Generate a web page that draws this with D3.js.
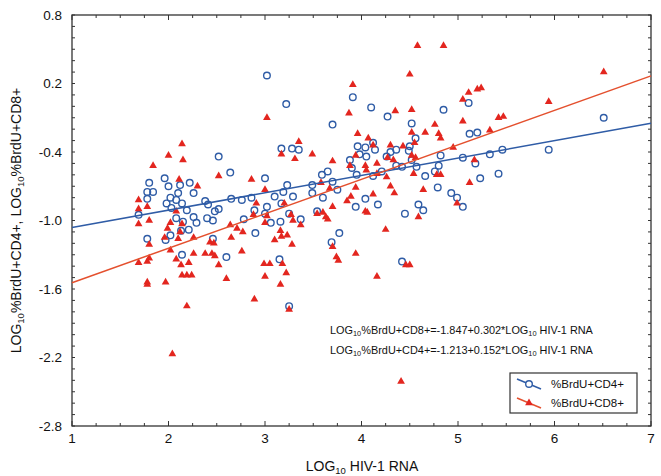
<!DOCTYPE html>
<html>
<head>
<meta charset="utf-8">
<script src="https://cdn.jsdelivr.net/npm/d3@7"></script>
<style>
  html, body { margin: 0; padding: 0; background: #fff; }
  svg { display: block; }
  text { font-family: "Liberation Sans", Arial, Helvetica, sans-serif; fill: #111; }
</style>
</head>
<body>
<svg id="chart" width="661" height="476"></svg>
<script>
// Log10 HIV-1 RNA vs log10 %BrdU+ cells, one [x, y] pair per sample
const cd4Points = [
  [2.52,-0.44],[1.80,-0.67],[1.96,-0.63],[2.64,-0.58],[1.78,-0.75],[1.84,-0.75],[2.00,-0.70],
  [2.12,-0.69],[2.22,-0.67],[2.26,-0.76],[2.10,-0.76],[1.78,-0.81],[2.02,-0.80],[2.08,-0.82],
  [1.98,-0.85],[2.14,-0.85],[2.03,-0.89],[2.19,-0.91],[2.38,-0.83],[2.41,-0.86],[2.48,-0.92],
  [2.52,-0.90],[2.65,-0.81],[2.76,-0.82],[1.69,-0.95],[2.08,-0.98],[2.15,-1.01],[2.26,-0.97],
  [2.29,-1.02],[2.40,-0.98],[2.46,-1.00],[2.78,-0.99],[2.21,-1.08],[2.13,-1.09],[1.78,-1.16],
  [1.97,-1.17],[2.02,-1.13],[2.46,-1.16],[2.14,-1.30],[2.60,-1.32],
  [3.02,0.27],[3.22,0.02],[3.91,0.08],[4.10,-0.01],[4.27,-0.09],[3.70,-0.16],[3.17,-0.37],
  [3.28,-0.37],[3.35,-0.38],[3.96,-0.35],[4.04,-0.36],[4.12,-0.32],[4.14,-0.38],[3.88,-0.47],
  [3.98,-0.42],[4.05,-0.44],[4.26,-0.44],[4.36,-0.38],[4.30,-0.40],[3.90,-0.54],[3.95,-0.60],
  [4.12,-0.61],[4.21,-0.57],[4.36,-0.52],[3.65,-0.57],[3.59,-0.60],[3.49,-0.69],[3.70,-0.66],
  [3.75,-0.73],[3.00,-0.63],[3.23,-0.69],[3.19,-0.75],[3.10,-0.79],[3.29,-0.79],[3.49,-0.76],
  [3.60,-0.80],[2.86,-0.80],[4.04,-0.81],[3.02,-0.88],[3.17,-0.85],[3.94,-0.88],[4.17,-0.86],
  [2.89,-0.91],[3.00,-0.94],[3.25,-0.94],[3.54,-0.92],[3.06,-1.02],[3.16,-1.01],[3.37,-0.99],
  [2.90,-1.11],[3.77,-1.11],[3.69,-1.19],[3.15,-1.34],[3.25,-1.75],
  [4.85,-0.03],[5.11,0.03],[4.52,-0.15],[6.51,-0.10],[5.12,-0.24],[5.20,-0.23],[4.56,-0.28],
  [4.50,-0.35],[4.49,-0.39],[4.82,-0.43],[4.42,-0.53],[4.57,-0.53],[4.52,-0.47],[5.05,-0.45],
  [5.18,-0.50],[5.33,-0.42],[5.46,-0.38],[5.94,-0.38],[4.80,-0.52],[4.76,-0.57],[4.66,-0.61],
  [5.23,-0.63],[5.42,-0.59],[4.79,-0.71],[4.93,-0.76],[4.99,-0.80],[5.05,-0.88],[4.59,-0.86],
  [4.64,-0.91],[4.45,-0.94],[4.42,-1.36]
];

const cd8Points = [
  [2.00,-0.43],[2.15,-0.47],[1.84,-0.52],[2.11,-0.64],[2.52,-0.61],[2.30,-0.70],[1.69,-0.82],
  [1.69,-0.90],[1.78,-0.88],[2.08,-0.92],[1.69,-1.03],[1.80,-1.00],[2.02,-1.02],[1.99,-1.07],
  [2.14,-1.03],[2.12,-1.10],[2.64,-1.04],[2.71,-1.07],[2.77,-1.10],[1.96,-1.15],[2.10,-1.16],
  [2.26,-1.15],[1.80,-1.21],[2.43,-1.19],[2.47,-1.20],[2.65,-1.15],[2.02,-1.26],[2.26,-1.29],
  [2.38,-1.29],[2.45,-1.29],[2.48,-1.31],[2.76,-1.27],[1.69,-1.37],[1.78,-1.36],[1.80,-1.33],
  [2.08,-1.34],[2.13,-1.39],[2.21,-1.37],[2.52,-1.39],[2.14,-1.48],[2.19,-1.48],[2.24,-1.48],
  [2.60,-1.51],[1.78,-1.54],[1.78,-1.56],[1.97,-1.54],[2.19,-1.75],[2.14,-0.33],[2.04,-2.17],
  [3.91,0.19],[3.02,-0.10],[3.87,-0.06],[4.35,-0.04],[3.96,-0.24],[3.35,-0.31],[3.17,-0.42],
  [3.31,-0.46],[3.49,-0.42],[3.70,-0.48],[4.07,-0.28],[4.12,-0.34],[4.30,-0.34],[4.27,-0.45],
  [4.33,-0.47],[4.16,-0.50],[4.04,-0.52],[4.05,-0.56],[3.88,-0.52],[3.94,-0.43],[4.26,-0.62],
  [4.16,-0.59],[2.86,-0.64],[3.00,-0.73],[3.58,-0.67],[3.67,-0.72],[3.94,-0.71],[4.30,-0.70],
  [4.12,-0.77],[4.34,-0.76],[3.89,-0.79],[3.70,-0.88],[3.85,-0.83],[4.04,-0.92],[4.06,-0.93],
  [2.91,-0.85],[2.88,-0.95],[3.02,-0.96],[3.20,-0.85],[3.27,-0.95],[3.29,-1.00],[3.37,-1.04],
  [3.54,-0.94],[3.63,-0.97],[3.60,-0.93],[3.65,-0.99],[4.25,-1.08],[3.00,-1.02],[3.10,-1.17],
  [3.16,-1.09],[3.17,-1.14],[3.23,-1.13],[3.28,-1.21],[3.70,-1.23],[3.74,-1.32],[3.76,-1.35],
  [3.94,-1.29],[2.99,-1.38],[3.05,-1.38],[3.18,-1.38],[3.22,-1.46],[3.00,-1.49],[3.16,-1.56],
  [4.16,-1.49],[2.89,-1.69],[3.25,-1.78],
  [4.58,0.53],[4.85,0.53],[4.50,0.28],[6.51,0.30],[5.11,0.12],[5.20,0.15],[5.24,0.16],
  [5.05,0.06],[5.94,0.04],[4.52,-0.03],[5.05,-0.13],[4.76,-0.16],[5.42,-0.10],[5.47,-0.09],
  [4.66,-0.23],[4.52,-0.23],[4.80,-0.24],[4.82,-0.28],[5.33,-0.21],[4.55,-0.32],[4.43,-0.35],
  [4.95,-0.36],[4.52,-0.43],[4.56,-0.45],[5.17,-0.47],[4.54,-0.59],[4.78,-0.60],[4.82,-0.60],
  [5.12,-0.67],[4.64,-0.73],[4.99,-0.85],[4.59,-0.97],[4.46,-1.39],[4.50,-1.39],[4.41,-2.41]
];

// Least-squares fits: y = intercept + slope * x
const cd8Fit = { intercept: -1.847, slope: 0.302 };
const cd4Fit = { intercept: -1.213, slope: 0.152 };

const xTicks = [1, 2, 3, 4, 5, 6, 7];
const yTicks = [0.8, 0.2, -0.4, -1.0, -1.6, -2.2, -2.8];
const seriesNames = ["%BrdU+CD4+", "%BrdU+CD8+"];

const blue = "#2f5ca6";
const red = "#e3261f";
const redLine = "#e4502e";

const svg = d3.select("#chart");
const W = 661, H = 476;
const m = { left: 72, right: 10, top: 15, bottom: 50 };

const x = d3.scaleLinear().domain([1, 7]).range([m.left, W - m.right]);
const y = d3.scaleLinear().domain([-2.8, 0.8]).range([H - m.bottom, m.top]);

const x0 = x.range()[0], x1 = x.range()[1];
const y0 = y.range()[1], y1 = y.range()[0];

// Plain hyphen-minus for negative numbers
const num = f => v => d3.format(f)(v).replace("\u2212", "-");

// Inward tick marks on all four sides
const xMinor = d3.range(1, 7.001, 0.25);
const yMinor = d3.range(-2.8, 0.8001, 0.1);
const ticks = svg.append("g").attr("stroke", "#333").attr("stroke-width", 1);
xMinor.forEach(v => {
  const len = Math.abs(v - Math.round(v)) < 1e-6 ? 5 : 3;
  ticks.append("line").attr("x1", x(v)).attr("x2", x(v)).attr("y1", y1).attr("y2", y1 - len);
  ticks.append("line").attr("x1", x(v)).attr("x2", x(v)).attr("y1", y0).attr("y2", y0 + len);
});
yMinor.forEach(v => {
  ticks.append("line").attr("x1", x0).attr("x2", x0 + 3).attr("y1", y(v)).attr("y2", y(v));
  ticks.append("line").attr("x1", x1).attr("x2", x1 - 3).attr("y1", y(v)).attr("y2", y(v));
});

// Frame
svg.append("rect")
  .attr("x", x0).attr("y", y0).attr("width", x1 - x0).attr("height", y1 - y0)
  .attr("fill", "none").attr("stroke", "#333").attr("stroke-width", 1.3);

// Tick labels
svg.append("g").selectAll("text").data(yTicks).join("text")
  .attr("x", x0 - 10).attr("y", d => y(d)).attr("dy", "0.35em")
  .attr("text-anchor", "end").attr("font-size", 13.5).text(num(".1f"));
svg.append("g").selectAll("text").data(xTicks).join("text")
  .attr("x", d => x(d)).attr("y", y1 + 17)
  .attr("text-anchor", "middle").attr("font-size", 13.5).text(d => d);

// Text built from segments; subscript segments are shrunk and lowered
function subText(g, segments, size) {
  segments.forEach(([t, sub]) => {
    g.append("tspan")
      .attr("font-size", sub ? size * 0.68 : size)
      .attr("baseline-shift", sub ? "-25%" : null)
      .text(t);
  });
}

// Axis titles
const xTitle = svg.append("text").attr("x", 362).attr("y", 471)
  .attr("text-anchor", "middle").attr("font-size", 14);
subText(xTitle, [["LOG", false], ["10", true], [" HIV-1 RNA", false]], 14);

const yTitle = svg.append("text")
  .attr("transform", `translate(21,${(y0 + y1) / 2}) rotate(-90)`)
  .attr("text-anchor", "middle").attr("font-size", 14);
subText(yTitle, [["LOG", false], ["10", true], ["%BrdU+CD4+, LOG", false], ["10", true], ["%BrdU+CD8+", false]], 14);

// Points
svg.append("g").selectAll("circle").data(cd4Points).join("circle")
  .attr("cx", d => x(d[0])).attr("cy", d => y(d[1])).attr("r", 3.3)
  .attr("fill", "none").attr("stroke", blue).attr("stroke-width", 1.4);

const tri = d3.symbol().type(d3.symbolTriangle).size(26);
svg.append("g").selectAll("path").data(cd8Points).join("path")
  .attr("transform", d => `translate(${x(d[0])},${y(d[1])})`)
  .attr("d", tri).attr("fill", red);

// Regression lines across the whole x domain
const fitLine = f => d3.line()(x.domain().map(v => [x(v), y(f.intercept + f.slope * v)]));
svg.append("path").attr("d", fitLine(cd4Fit)).attr("stroke", blue).attr("stroke-width", 1.5).attr("fill", "none");
svg.append("path").attr("d", fitLine(cd8Fit)).attr("stroke", redLine).attr("stroke-width", 1.5).attr("fill", "none");

// Fit equations
const fmt = num(".3f");
function eqSegments(name, f) {
  return [["LOG", false], ["10", true],
    [`%BrdU+${name}+=${fmt(f.intercept)}+${fmt(f.slope)}*LOG`, false], ["10", true], [" HIV-1 RNA", false]];
}
const eqSize = 10.9;
const eq1 = svg.append("text").attr("x", 330).attr("y", 334).attr("font-size", eqSize);
subText(eq1, eqSegments("CD8", cd8Fit), eqSize);
const eq2 = svg.append("text").attr("x", 330).attr("y", 354).attr("font-size", eqSize);
subText(eq2, eqSegments("CD4", cd4Fit), eqSize);

// Legend
const lg = svg.append("g");
lg.append("rect").attr("x", 510).attr("y", 373).attr("width", 127).attr("height", 40)
  .attr("fill", "#fff").attr("stroke", "#333").attr("stroke-width", 1.2);
const rows = [
  { name: seriesNames[0], cy: 384, color: blue, kind: "circle" },
  { name: seriesNames[1], cy: 403, color: redLine, kind: "tri" }
];
rows.forEach(r => {
  lg.append("line").attr("x1", 517).attr("y1", r.cy - 5).attr("x2", 541).attr("y2", r.cy + 5)
    .attr("stroke", r.color).attr("stroke-width", 1.5);
  if (r.kind === "circle") {
    lg.append("circle").attr("cx", 529).attr("cy", r.cy).attr("r", 3.3)
      .attr("fill", "#fff").attr("stroke", blue).attr("stroke-width", 1.4);
  } else {
    lg.append("path").attr("transform", `translate(529,${r.cy})`).attr("d", tri).attr("fill", red);
  }
  lg.append("text").attr("x", 551).attr("y", r.cy).attr("dy", "0.35em")
    .attr("font-size", 11.5).text(r.name);
});
</script>
</body>
</html>
